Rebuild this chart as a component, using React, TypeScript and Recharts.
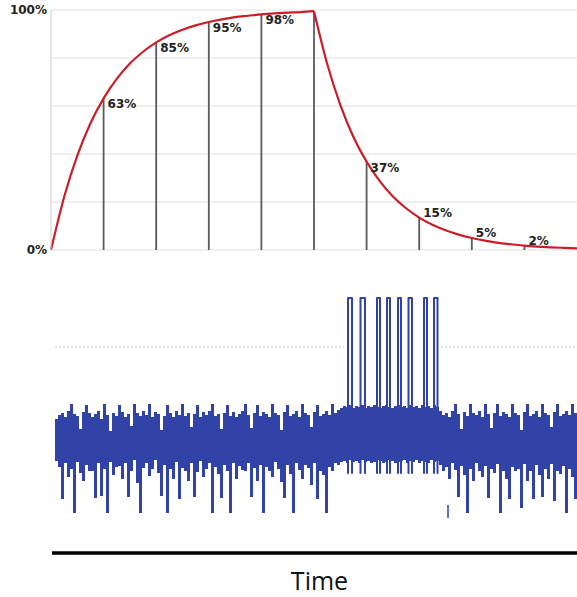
import React from 'react';
import {
  ComposedChart,
  Line,
  Bar,
  Scatter,
  XAxis,
  YAxis,
  CartesianGrid,
  ReferenceLine,
} from 'recharts';

// top panel: charge / discharge curve, time in units of tau
const chargeT = [0, 0.25, 0.5, 0.75, 1, 1.25, 1.5, 1.75, 2, 2.25, 2.5, 2.75, 3, 3.25, 3.5, 3.75, 4, 4.25, 4.5, 4.75, 5];
const chargeV = [0, 22.1, 39.3, 52.8, 63.2, 71.3, 77.7, 82.6, 86.5, 89.5, 91.8, 93.6, 95, 96.1, 97, 97.6, 98.2, 98.6, 98.9, 99.1, 99.5];
const dischargeT = [5, 5.25, 5.5, 5.75, 6, 6.25, 6.5, 6.75, 7, 7.25, 7.5, 7.75, 8, 8.25, 8.5, 8.75, 9, 9.25, 9.5, 9.75, 10];
const dischargeV = [99.5, 77.6, 60.5, 47.1, 36.8, 28.7, 22.3, 17.4, 13.5, 10.5, 8.2, 6.4, 5, 3.9, 3, 2.4, 1.8, 1.4, 1.1, 0.9, 0.7];

const markerT = [1, 2, 3, 4, 5, 6, 7, 8, 9];
const markerV = [63.2, 86.5, 95, 98.2, 99.5, 36.8, 13.5, 5, 1.8];
const markerText = ['63%', '85%', '95%', '98%', '', '37%', '15%', '5%', '2%'];
const yTicks = [0, 20, 40, 60, 80, 100];

// bottom panel: noisy trace (one sample every 3 time units), envelope per sample
const noiseStart = 4.5;
const noiseStep = 3;
const noiseHigh = [
  22, 26, 28, 24, 30, 37, 27, 25, 12, 29,
  36, 28, 24, 27, 30, 22, 37, 26, 10, 28,
  25, 36, 29, 24, 27, 15, 37, 28, 25, 30,
  26, 37, 24, 29, 27, 11, 25, 36, 28, 24,
  30, 26, 37, 25, 28, 14, 27, 36, 24, 29,
  26, 30, 37, 25, 27, 12, 28, 36, 25, 29,
  24, 27, 30, 37, 26, 13, 28, 36, 25, 29,
  27, 24, 37, 28, 26, 11, 29, 36, 25, 27,
  30, 24, 37, 28, 26, 14, 29, 36, 25, 27,
  30, 26, 37, 28, 31, 33, 35, 34, 36, 33,
  35, 34, 36, 33, 35, 34, 36, 34, 33, 35,
  36, 34, 33, 35, 36, 34, 35, 33, 36, 34,
  35, 33, 36, 34, 35, 33, 36, 34, 30, 26,
  28, 24, 30, 37, 27, 12, 29, 25, 37, 28,
  26, 30, 24, 37, 27, 13, 28, 37, 25, 29,
  27, 24, 37, 28, 26, 11, 29, 37, 25, 27,
  30, 24, 37, 28, 26, 14, 29, 37, 25, 27,
  30, 26, 37, 28,
];
const noiseLow = [
  -20, -26, -58, -22, -36, -28, -72, -21, -32, -40,
  -24, -30, -30, -57, -22, -55, -28, -72, -21, -34,
  -26, -25, -38, -22, -56, -30, -19, -42, -72, -27,
  -22, -35, -28, -19, -32, -55, -24, -72, -28, -38,
  -21, -58, -27, -30, -40, -22, -56, -31, -20, -36,
  -28, -22, -72, -26, -33, -57, -24, -30, -72, -22,
  -38, -25, -29, -30, -22, -56, -27, -40, -24, -72,
  -26, -30, -36, -21, -28, -41, -57, -24, -33, -72,
  -22, -29, -38, -24, -27, -44, -22, -58, -30, -34,
  -72, -26, -30, -22, -24, -21, -20, -22, -19, -21,
  -20, -22, -19, -21, -20, -22, -21, -19, -20, -22,
  -21, -19, -20, -22, -21, -20, -19, -22, -20, -21,
  -19, -22, -20, -21, -22, -19, -21, -20, -24, -30,
  -26, -38, -22, -29, -56, -25, -34, -72, -28, -40,
  -22, -30, -36, -25, -57, -28, -32, -23, -72, -30,
  -38, -58, -26, -30, -28, -67, -23, -40, -30, -58,
  -24, -34, -56, -28, -38, -23, -60, -30, -33, -25,
  -72, -28, -36, -58,
];

const pulseLeft = [296, 308.5, 325, 335, 346, 356.5, 372, 382];
const pulseRight = [300, 313, 328, 338, 349, 360, 375, 385.5];
const pulseTop = 143;
const pulseBase = -32;

const dotLevel = 94;
const dotFrom = [3, 389];
const dotTo = [292, 525];

const blipT = [396];
const blipFrom = [-64];
const blipTo = [-77];

const RED = '#c81e28';
const BLUE = '#3143a6';

const chargeData = chargeT.map((t, i) => ({ t, v: chargeV[i] }));
const dischargeData = dischargeT.map((t, i) => ({ t, v: dischargeV[i] }));
const labelData = markerT.map((t, i) => ({ t, v: markerV[i], text: markerText[i] }));

const noiseData = noiseHigh.map((h, i) => ({
  t: noiseStart + i * noiseStep,
  range: [noiseLow[i], h],
}));

const pulseData = pulseLeft.flatMap((l, i) => [
  { t: l, v: pulseBase },
  { t: l, v: pulseTop },
  { t: pulseRight[i], v: pulseTop },
  { t: pulseRight[i], v: pulseBase },
  { t: pulseRight[i], v: null },
]);

const renderMarkLabel = (p: any) => {
  const { cx, cy, payload } = p;
  if (!payload || !payload.text) return <g />;
  const above = payload.v < 20;
  return (
    <text
      x={cx + 4}
      y={above ? cy - 1 : cy + 10}
      fill="#222"
      fontSize={12}
      fontWeight="bold"
      fontFamily="DejaVu Sans"
    >
      {payload.text}
    </text>
  );
};

// fixed 3px column centred on the sample time
const NoiseColumn = (p: any) => {
  const { x, y, width, height } = p;
  if (x == null || y == null) return <g />;
  const cx = x + width / 2;
  const top = Math.min(y, y + height);
  return <rect x={cx - 1.5} y={top} width={3} height={Math.abs(height)} fill={BLUE} />;
};

const TimeLabel = (props: any) => {
  const vb = props.viewBox || { x: 52, y: 553, width: 525, height: 44 };
  return (
    <text
      x={vb.x + vb.width / 2 + 5}
      y={vb.y + 37}
      textAnchor="middle"
      fill="#111"
      fontSize={25}
      fontFamily="Open Sans"
    >
      Time
    </text>
  );
};

export default function App() {
  return (
    <div
      style={{
        position: 'absolute',
        left: 0,
        top: 0,
        width: 577,
        height: 597,
        background: '#fff',
        fontFamily: 'DejaVu Sans',
      }}
    >
      <div style={{ position: 'absolute', left: 0, top: 0 }}>
        <ComposedChart width={577} height={262} margin={{ top: 10, right: 0, bottom: 12, left: 8 }}>
          <CartesianGrid vertical={false} stroke="#e0e0e0" />
          <XAxis type="number" dataKey="t" domain={[0, 10]} hide />
          <YAxis
            type="number"
            domain={[0, 100]}
            ticks={yTicks}
            width={43}
            tickSize={2}
            tickLine={false}
            axisLine={{ stroke: '#cccccc' }}
            tickFormatter={(v) => (v === 0 || v === 100 ? `${v}%` : '')}
            tick={{ fill: '#222', fontSize: 12, fontWeight: 'bold', fontFamily: 'DejaVu Sans' }}
          />
          {markerT.map((t, i) => (
            <ReferenceLine
              key={t}
              segment={[
                { x: t, y: 0 },
                { x: t, y: markerV[i] },
              ]}
              stroke="#5a5a5a"
              strokeWidth={1.8}
            />
          ))}
          <Line
            data={chargeData}
            dataKey="v"
            type="monotone"
            stroke={RED}
            strokeWidth={2.2}
            dot={false}
            isAnimationActive={false}
          />
          <Line
            data={dischargeData}
            dataKey="v"
            type="monotone"
            stroke={RED}
            strokeWidth={2.2}
            dot={false}
            isAnimationActive={false}
          />
          <Scatter data={labelData} dataKey="v" shape={renderMarkLabel} isAnimationActive={false} />
        </ComposedChart>
      </div>
      <div style={{ position: 'absolute', left: 0, top: 262 }}>
        <ComposedChart
          width={577}
          height={335}
          data={noiseData}
          margin={{ top: 28, right: 0, bottom: 0, left: 52 }}
        >
          <XAxis
            type="number"
            dataKey="t"
            domain={[0, 525]}
            allowDataOverflow
            height={44}
            tick={false}
            tickLine={false}
            axisLine={{ stroke: '#000', strokeWidth: 3.5 }}
            label={TimeLabel}
          />
          <YAxis type="number" domain={[-112, 151]} allowDataOverflow hide />
          {dotFrom.map((f, i) => (
            <ReferenceLine
              key={'dot' + i}
              segment={[
                { x: f, y: dotLevel },
                { x: dotTo[i], y: dotLevel },
              ]}
              stroke="#c4c4c4"
              strokeWidth={1}
              strokeDasharray="2 2"
            />
          ))}
          <Bar dataKey="range" fill={BLUE} shape={NoiseColumn} isAnimationActive={false} />
          {blipT.map((t, i) => (
            <ReferenceLine
              key={'blip' + i}
              segment={[
                { x: t, y: blipFrom[i] },
                { x: t, y: blipTo[i] },
              ]}
              stroke={BLUE}
              strokeWidth={1.5}
            />
          ))}
          <Line
            data={pulseData}
            dataKey="v"
            type="linear"
            stroke={BLUE}
            strokeWidth={2}
            strokeLinejoin="round"
            strokeLinecap="round"
            dot={false}
            connectNulls={false}
            isAnimationActive={false}
          />
        </ComposedChart>
      </div>
    </div>
  );
}
